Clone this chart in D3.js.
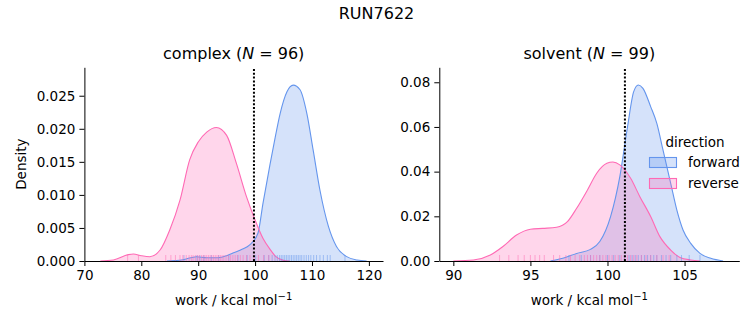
<!DOCTYPE html>
<html>
<head>
<meta charset="utf-8">
<script src="https://cdn.jsdelivr.net/npm/d3@7"></script>
<style>
  body { margin: 0; background: #fff; }
  text { font-family: "DejaVu Sans", sans-serif; fill: #000; }
</style>
</head>
<body>
<div id="chart"></div>
<script>
var svgWidth = 753;
var svgHeight = 325;

// density curves: [work, density]
var complexForward = [[84.5,0],[87.3,0.0002],[89.7,0.00065],[91.5,0.0005],[93.5,0.0005],[95.0,0.0008],
  [96.1,0.0012],[97.8,0.0018],[99.0,0.0024],[100.5,0.0042],[101.4,0.0088],[102.6,0.0145],[103.6,0.019],
  [104.4,0.0223],[105.6,0.0256],[106.7,0.0266],[107.9,0.0259],[109.1,0.0223],[110.2,0.0168],[111.4,0.0107],
  [112.9,0.0052],[114.3,0.0022],[116.1,0.00066],[117.9,0.00015],[119.6,0]];
var complexReverse = [[72.8,0],[75.1,0.00015],[77.7,0.00096],[78.6,0.00106],[80.0,0.0008],[81.5,0.00065],
  [83.3,0.00166],[85.0,0.0047],[86.8,0.0092],[88.5,0.0153],[90.0,0.018],[91.5,0.0195],[93.2,0.0202],
  [95.0,0.019],[96.7,0.0148],[98.5,0.0097],[100.0,0.0062],[101.4,0.0034],[102.6,0.0018],[103.6,0.0007],
  [105.0,0.0001],[106.1,0]];
var solventForward = [[96.3,0],[97.1,0.0012],[98.0,0.0034],[98.9,0.0052],[99.5,0.0087],[100.2,0.0199],
  [100.8,0.0378],[101.3,0.0601],[101.7,0.0758],[102.0,0.0788],[102.3,0.0773],[102.8,0.0691],[103.2,0.0616],
  [103.6,0.0497],[104.1,0.0348],[104.5,0.0228],[104.9,0.0139],[105.4,0.0079],[106.0,0.0034],[106.7,0.0012],[107.5,0]];
var solventReverse = [[90.0,0],[91.3,0.00045],[92.4,0.0027],[93.2,0.0064],[94.1,0.0116],[95.0,0.0142],
  [95.8,0.0146],[96.7,0.0151],[97.4,0.0176],[98.0,0.0236],[98.7,0.0318],[99.3,0.0393],[99.96,0.0437],
  [100.35,0.0443],[100.8,0.043],[101.5,0.037],[102.1,0.0288],[102.8,0.0199],[103.4,0.0109],[104.1,0.0049],
  [104.7,0.0016],[105.4,0.00045],[106.0,0]];

// rug values (individual work values)
var complexForwardRug = [87.5,89.8,90.3,91.0,92.3,93.6,95.4,97.0,98.6,100.1,101.6,102.4,103.0,103.5,103.9,
  104.3,104.6,104.9,105.2,105.5,105.8,106.1,106.4,106.7,107.0,107.3,107.6,107.9,108.2,108.6,109.0,109.4,
  109.8,110.3,110.8,111.4,112.0,112.7,113.2,115.8];
var complexReverseRug = [77.6,79.5,84.3,85.2,86.0,86.8,87.3,87.9,88.4,88.8,89.1,89.5,89.9,90.2,90.6,90.9,
  91.2,91.5,91.8,92.1,92.4,92.7,93.0,93.3,93.6,93.9,94.2,94.5,94.9,95.3,95.7,96.1,96.5,96.9,97.4,97.9,
  98.5,99.1,99.8,100.6,101.5,102.4];
var solventForwardRug = [97.5,98.3,98.9,99.5,100.0,100.4,100.8,101.1,101.4,101.6,101.8,102.0,102.2,102.4,
  102.6,102.8,103.0,103.2,103.5,103.8,104.1,104.5,104.8,105.3,106.0];
var solventReverseRug = [93.0,93.6,94.2,94.6,95.0,95.3,95.6,95.9,96.5,96.9,97.3,97.6,97.9,98.2,98.5,98.7,
  98.9,99.1,99.3,99.5,99.7,99.9,100.1,100.3,100.5,100.7,100.9,101.1,101.3,101.5,101.7,101.9,102.2,102.5,
  102.8,103.2,103.6,104.0];

var directions = ["forward", "reverse"];
var colors = {forward: "#6495ed", reverse: "#ff69b4"};

var panels = [
  {name: "complex", n: 96, left: 84.4, right: 383, xDomain: [70, 122.48], yMax: 0.0293,
   xTicks: [70, 80, 90, 100, 110, 120], yTicks: [0, 0.005, 0.01, 0.015, 0.02, 0.025], yFmt: ".3f",
   vline: 99.8, curves: {forward: complexForward, reverse: complexReverse},
   rugs: {forward: complexForwardRug, reverse: complexReverseRug}},
  {name: "solvent", n: 99, left: 439.3, right: 739.3, xDomain: [89.09, 108.55], yMax: 0.0867,
   xTicks: [90, 95, 100, 105], yTicks: [0, 0.02, 0.04, 0.06, 0.08], yFmt: ".2f",
   vline: 101.13, curves: {forward: solventForward, reverse: solventReverse},
   rugs: {forward: solventForwardRug, reverse: solventReverseRug}}
];

var axTop = 67.3, axBottom = 261;

var svg = d3.select("#chart")
  .append("svg")
  .attr("width", svgWidth)
  .attr("height", svgHeight);

svg.append("text")
  .attr("x", 376.5)
  .attr("y", 19)
  .attr("text-anchor", "middle")
  .style("font-size", "16px")
  .text("RUN7622");

panels.forEach(function(p, i) {
  var x = d3.scaleLinear().domain(p.xDomain).range([p.left, p.right]);
  var y = d3.scaleLinear().domain([0, p.yMax]).range([axBottom, axTop]);

  var g = svg.append("g");

  var area = d3.area()
    .curve(d3.curveMonotoneX)
    .x(d => x(d[0]))
    .y0(y(0))
    .y1(d => y(d[1]));
  var line = d3.line()
    .curve(d3.curveMonotoneX)
    .x(d => x(d[0]))
    .y(d => y(d[1]));

  directions.forEach(function(dir) {
    g.append("path")
      .attr("d", area(p.curves[dir]))
      .attr("fill", colors[dir])
      .attr("fill-opacity", 0.27);
  });
  directions.forEach(function(dir) {
    g.append("path")
      .attr("d", line(p.curves[dir]))
      .attr("fill", "none")
      .attr("stroke", colors[dir])
      .attr("stroke-width", 1.1);
  });

  // rug
  directions.forEach(function(dir) {
    g.append("g").selectAll("line")
      .data(p.rugs[dir])
      .enter()
      .append("line")
      .attr("x1", d => x(d))
      .attr("x2", d => x(d))
      .attr("y1", axBottom)
      .attr("y2", axBottom - 6)
      .attr("stroke", colors[dir])
      .attr("stroke-opacity", 0.5)
      .attr("stroke-width", 1);
  });

  // dotted line
  g.append("line")
    .attr("x1", x(p.vline))
    .attr("x2", x(p.vline))
    .attr("y1", axBottom)
    .attr("y2", axTop)
    .attr("stroke", "#000")
    .attr("stroke-width", 2)
    .attr("stroke-dasharray", "2,1.8");

  // axes
  var xAxis = g.append("g")
    .attr("transform", `translate(0, ${axBottom})`)
    .call(d3.axisBottom(x).tickValues(p.xTicks).tickSize(5).tickPadding(4).tickSizeOuter(0));
  var yAxis = g.append("g")
    .attr("transform", `translate(${p.left}, 0)`)
    .call(d3.axisLeft(y).tickValues(p.yTicks).tickFormat(d3.format(p.yFmt)).tickSize(5).tickPadding(4).tickSizeOuter(0));

  [xAxis, yAxis].forEach(function(a) {
    a.select(".domain").attr("stroke", "#000").attr("stroke-width", 1);
    a.selectAll(".tick line").attr("stroke", "#000").attr("stroke-width", 1);
    a.selectAll("text").style("font-size", "13.5px").attr("font-family", "DejaVu Sans");
  });

  // title
  var title = g.append("text")
    .attr("x", (p.left + p.right) / 2)
    .attr("y", 59)
    .attr("text-anchor", "middle")
    .style("font-size", "16px");
  title.append("tspan").text(p.name + " (");
  title.append("tspan").style("font-style", "italic").text("N");
  title.append("tspan").text(" = " + p.n + ")");

  // x label
  var xl = g.append("text")
    .attr("x", (p.left + p.right) / 2)
    .attr("y", 305)
    .attr("text-anchor", "middle")
    .style("font-size", "13.5px");
  xl.append("tspan").text("work / kcal mol");
  xl.append("tspan").attr("dy", -5).style("font-size", "10px").text("\u22121");

  if (i === 0) {
    g.append("text")
      .attr("transform", `translate(26, ${(axTop + axBottom) / 2}) rotate(-90)`)
      .attr("text-anchor", "middle")
      .style("font-size", "13.5px")
      .text("Density");
  }

  if (i === 1) {
    var leg = svg.append("g");
    leg.append("text")
      .attr("x", 695)
      .attr("y", 147)
      .attr("text-anchor", "middle")
      .style("font-size", "13.5px")
      .text("direction");
    directions.forEach(function(dir, k) {
      leg.append("rect")
        .attr("x", 649.5)
        .attr("y", 157.5 + k * 21)
        .attr("width", 27)
        .attr("height", 10)
        .attr("fill", colors[dir])
        .attr("fill-opacity", 0.27)
        .attr("stroke", colors[dir])
        .attr("stroke-width", 1.1);
      leg.append("text")
        .attr("x", 688)
        .attr("y", 167 + k * 21)
        .style("font-size", "13.5px")
        .text(dir);
    });
  }
});
</script>
</body>
</html>
